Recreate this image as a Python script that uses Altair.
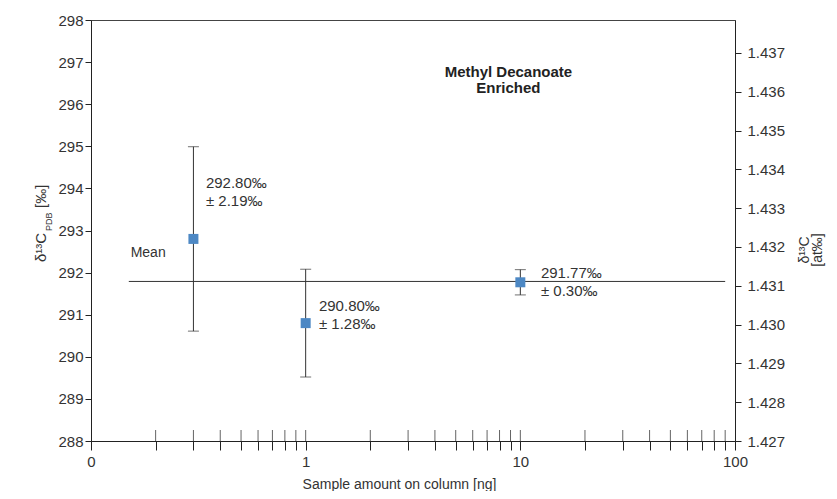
import altair as alt
import pandas as pd

# ---------------- data ----------------
amounts = [0.3, 1, 10]
values = [292.80, 290.80, 291.77]
errors = [2.19, 1.28, 0.30]
labels = ["292.80‰\n± 2.19‰", "290.80‰\n± 1.28‰", "291.77‰\n± 0.30‰"]
label_x = [0.343, 1.153, 12.47]
label_y = [294.29, 291.37, 292.16]

left_ticks = [288, 289, 290, 291, 292, 293, 294, 295, 296, 297, 298]
right_ticks = [1.427, 1.428, 1.429, 1.430, 1.431, 1.432, 1.433, 1.434, 1.435, 1.436, 1.437]
right_domain = [1.427, 1.43785]
x_ticks = [0.1, 0.2, 0.3, 0.4, 0.5, 0.6, 0.7, 0.8, 0.9,
           1, 2, 3, 4, 5, 6, 7, 8, 9,
           10, 20, 30, 40, 50, 60, 70, 80, 90, 100]
x_inner_ticks = [t for t in x_ticks if t not in (0.1, 100)]
mean_span = [0.15, 90]
mean_label = ["Mean"]
mean_label_x = [0.153]
mean_label_y = [292.47]
title_text = ["Methyl Decanoate\nEnriched"]
title_x = [8.8]
title_y = [296.92]
left_title_parts = ["δ¹³C", "PDB", "[‰]"]
right_title_parts = ["δ¹³C", "[at‰]"]

mean_value = sum(values) / len(values)

# ---------------- tables ----------------
pts = pd.DataFrame({
    "x": amounts,
    "y": values,
    "lo": [v - e for v, e in zip(values, errors)],
    "hi": [v + e for v, e in zip(values, errors)],
})
lab = pd.DataFrame({"x": label_x, "y": label_y, "t": labels})
mean_df = pd.DataFrame({"x": [mean_span[0]], "x2": [mean_span[1]], "y": [mean_value]})
mean_lab = pd.DataFrame({"x": mean_label_x, "y": mean_label_y, "t": mean_label})
ttl = pd.DataFrame({"x": title_x, "y": title_y, "t": title_text})
xt = pd.DataFrame({"x": x_inner_ticks, "y": [left_ticks[0]] * len(x_inner_ticks)})
rt = pd.DataFrame({"r": right_ticks})

FONT = "Liberation Sans"
DARK = "#333333"
LINE = "#222222"
BLUE = "#4d88c4"

xscale = alt.Scale(type="log", domain=[x_ticks[0], x_ticks[-1]], nice=False)
yscale = alt.Scale(domain=[left_ticks[0], left_ticks[-1]], nice=False, zero=False)

x_axis = alt.Axis(
    values=x_ticks,
    labelExpr="datum.value == 0.1 ? '0' : ((datum.value == 1 || datum.value == 10 || datum.value == 100) ? '' + datum.value : '')",
    labelOverlap=False,
    labelFlush=False,
    tickSize=9,
    labelPadding=4,
    labelFontSize=15,
    labelFont=FONT,
    labelColor=DARK,
    grid=False,
    domainColor=LINE,
    tickColor=LINE,
    title="Sample amount on column [ng]",
    titleFont=FONT,
    titleFontSize=14,
    titleFontWeight="normal",
    titleColor=DARK,
    titleX=308,
    titleY=43,
    titleBaseline="middle",
    titleAnchor="middle",
    titleAlign="center",
)
y_axis = alt.Axis(
    values=left_ticks,
    tickSize=6,
    labelPadding=2,
    labelFontSize=15,
    labelFont=FONT,
    labelColor=DARK,
    grid=False,
    domainColor=LINE,
    tickColor=LINE,
    title=None,
)

def X(f="x"):
    return alt.X(f + ":Q", scale=xscale, axis=x_axis)

def Y(f="y"):
    return alt.Y(f + ":Q", scale=yscale, axis=y_axis)

mean_rule = alt.Chart(mean_df).mark_rule(color=DARK, strokeWidth=1).encode(
    x=X("x"), x2="x2:Q", y=Y("y")
)
upticks = alt.Chart(xt).mark_tick(orient="vertical", size=11, thickness=1, yOffset=-5.5, color=LINE).encode(
    x=X(), y=Y()
)
err = alt.Chart(pts).mark_rule(color=DARK, strokeWidth=1).encode(x=X(), y=Y("lo"), y2="hi:Q")
cap_lo = alt.Chart(pts).mark_tick(orient="horizontal", size=11, thickness=1, color=DARK).encode(x=X(), y=Y("lo"))
cap_hi = alt.Chart(pts).mark_tick(orient="horizontal", size=11, thickness=1, color=DARK).encode(x=X(), y=Y("hi"))
squares = alt.Chart(pts).mark_square(size=100, color=BLUE, opacity=1).encode(x=X(), y=Y())
ann = alt.Chart(lab).mark_text(
    align="left", baseline="top", lineBreak="\n", lineHeight=18, fontSize=15, font=FONT, color=DARK
).encode(x=X(), y=Y(), text="t:N")
mean_txt = alt.Chart(mean_lab).mark_text(
    align="left", baseline="middle", fontSize=14, font=FONT, color=DARK
).encode(x=X(), y=Y(), text="t:N")
title_mark = alt.Chart(ttl).mark_text(
    align="center", baseline="top", lineBreak="\n", lineHeight=16, fontSize=15, fontWeight="bold", font=FONT, color=LINE
).encode(x=X(), y=Y(), text="t:N")

# left axis title (rotated, with subscript)
lt = pd.DataFrame({"t": left_title_parts})
def piece(i, xpix, ypix, size):
    return alt.Chart(lt).transform_filter(alt.datum.t == left_title_parts[i]).mark_text(
        angle=270, align="left", baseline="alphabetic", fontSize=size, font=FONT, color=DARK
    ).encode(x=alt.value(xpix), y=alt.value(ypix), text="t:N")

lt1 = piece(0, -45, 242, 15)
lt2 = piece(1, -39, 211, 9)
lt3 = piece(2, -45, 188, 15)

rtt = pd.DataFrame({"t": right_title_parts})
def rpiece(i, xpix):
    return alt.Chart(rtt).transform_filter(alt.datum.t == right_title_parts[i]).mark_text(
        angle=270, align="center", baseline="alphabetic", fontSize=14, font=FONT, color=DARK
    ).encode(x=alt.value(xpix), y=alt.value(230), text="t:N")

rt1 = rpiece(0, 718)
rt2 = rpiece(1, 731)

left = alt.layer(mean_rule, upticks, err, cap_lo, cap_hi, squares, ann, mean_txt, title_mark,
                 lt1, lt2, lt3, rt1, rt2)

right = alt.Chart(rt).mark_point(opacity=0).encode(
    y=alt.Y("r:Q", scale=alt.Scale(domain=right_domain, nice=False, zero=False),
            axis=alt.Axis(orient="right", values=right_ticks, format=".3f", tickSize=6,
                          labelPadding=6, labelFontSize=15, labelFont=FONT, labelColor=DARK,
                          grid=False, domainColor=LINE, tickColor=LINE, title=None))
)

chart = alt.layer(left, right).resolve_scale(y="independent").properties(
    width=644, height=421,
    autosize=alt.AutoSizeParams(type="none"),
    padding={"left": 83, "top": 12, "right": 94, "bottom": 50},
    background="white",
).configure_view(stroke="#444444", strokeWidth=1)

chart.save("out.html", embed_options={"renderer": "svg", "actions": False})
